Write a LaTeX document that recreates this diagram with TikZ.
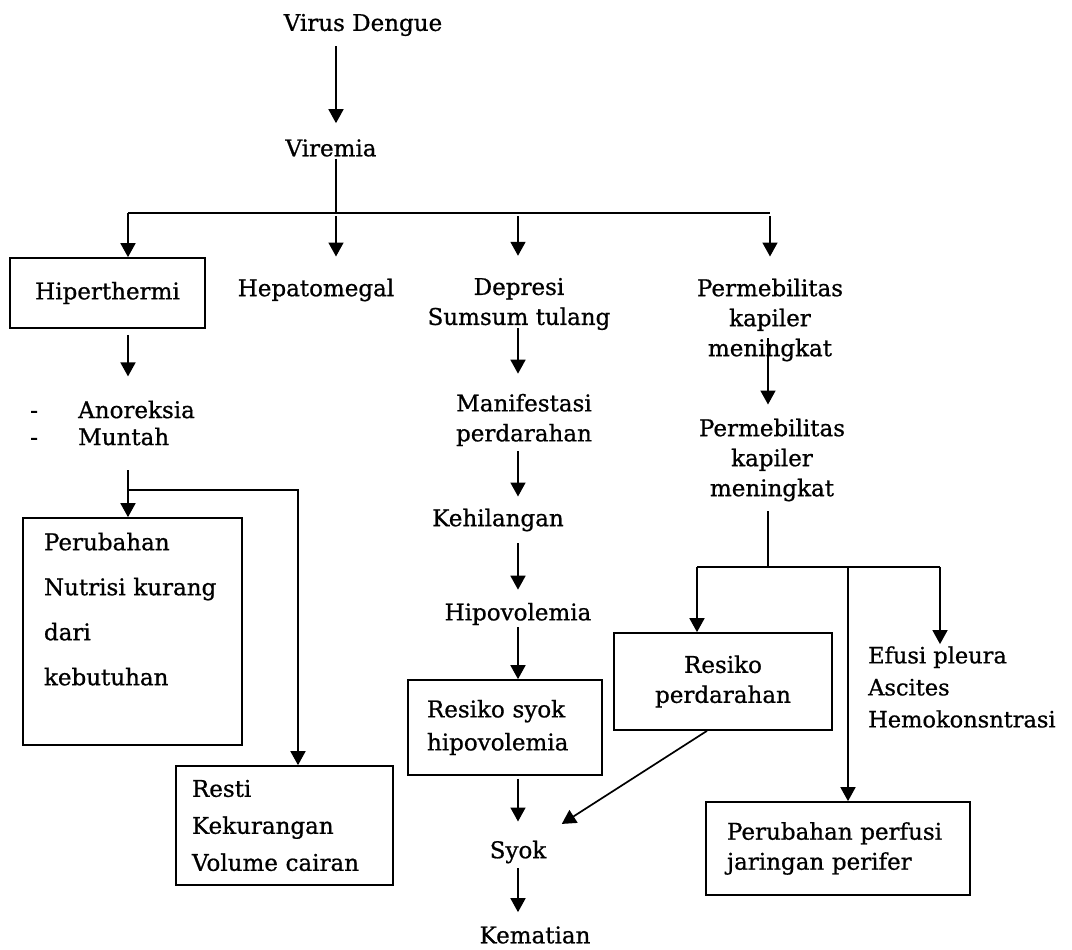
\documentclass[tikz,border=0pt]{standalone}
\usepackage{fontspec}
\setmainfont{DejaVu Serif}[FakeBold=0.8]
\usetikzlibrary{arrows.meta,positioning}
\tikzstyle{line} = [line width=1.7pt]
\tikzstyle{arrow} = [line width=1.7pt,-{Triangle[length=14pt,width=15pt]},shorten <=3pt,shorten >=14pt]
\tikzstyle{barrow} = [line width=1.7pt,-{Triangle[length=14pt,width=15pt]}]

\begin{document}
\begin{tikzpicture}[x=1pt,y=-1pt,every node/.style={font=\fontsize{23}{30}\selectfont,align=center,inner sep=2pt},
    box/.style={draw,line width=1.7pt}]
    \useasboundingbox (0,0) rectangle (1072,950);
    % create the nodes
    \node (virus) at (363,25) {Virus Dengue};
    \node (viremia) at (331,148) {Viremia};
    \node (hiper) [box, minimum width=195pt, minimum height=70pt] at (107.5,293) {Hiperthermi};
    \node (hepa) at (316,290) {Hepatomegal};
    \node (depresi) at (519,304) {Depresi\\Sumsum tulang};
    \node (perm1) at (770,320) {Permebilitas\\kapiler\\meningkat};
    \node (anor) [anchor=west, align=left, font=\fontsize{23}{27}\selectfont] at (28,423) {\makebox[48pt][l]{-}Anoreksia\\\makebox[48pt][l]{-}Muntah};
    \node (nutri) [box, align=left, text width=177pt, inner xsep=21pt, minimum height=227pt, font=\fontsize{23}{45}\selectfont] at (132.5,631.5) {Perubahan\\Nutrisi kurang\\dari\\kebutuhan\\\mbox{}};
    \node (resti) [box, align=left, text width=185pt, inner xsep=16pt, minimum height=119pt, font=\fontsize{23}{37}\selectfont] at (284.5,825.5) {Resti\\Kekurangan\\Volume cairan};
    \node (manif) at (524,420) {Manifestasi\\perdarahan};
    \node (kehil) at (498,520) {Kehilangan};
    \node (hipovol) at (518,614) {Hipovolemia};
    \node (rsyok) [box, align=left, text width=156pt, inner xsep=19pt, minimum height=95pt, font=\fontsize{23}{33}\selectfont] at (505,727.5) {Resiko syok\\hipovolemia};
    \node (syok) at (518,852) {Syok};
    \node (kematian) at (535,935) {Kematian};
    \node (perm2) at (772,460) {Permebilitas\\kapiler\\meningkat};
    \node (resperd) [box, minimum width=218pt, minimum height=97pt] at (723,681.5) {Resiko\\perdarahan};
    \node (efusi) [anchor=west, align=left, font=\fontsize{22.5}{32}\selectfont] at (866,687) {Efusi pleura\\Ascites\\Hemokonsntrasi};
    \node (perfusi) [box, align=left, text width=222pt, inner xsep=21pt, minimum height=93pt] at (838,848.5) {Perubahan perfusi\\jaringan perifer};
    % junction points
    \coordinate (b1) at (128,213);
    \coordinate (b2) at (336,213);
    \coordinate (b3) at (518,213);
    \coordinate (b4) at (770,213);
    \coordinate (a1) at (128,470);
    \coordinate (a2) at (128,490);
    \coordinate (a3) at (298,490);
    \coordinate (c1) at (768,567);
    \coordinate (c2) at (697,567);
    \coordinate (c3) at (848,567);
    \coordinate (c4) at (940,567);
    % connect the nodes
    \draw[arrow, shorten <=8pt] (virus.south -| b2) -- (viremia.north -| b2);
    \draw[line] (viremia.south -| b2) -- (b2);
    \draw[line] (b1) -- (b4);
    \draw[barrow] (b1) -- (b1 |- hiper.north);
    \draw[arrow, shorten >=20pt] (b2) -- (b2 |- hepa.north);
    \draw[arrow, shorten >=20pt] (b3) -- (b3 |- depresi.north);
    \draw[arrow, shorten >=20pt] (b4) -- (b4 |- perm1.north);
    \draw[arrow, shorten <=6pt, shorten >=22pt] (b1 |- hiper.south) -- (b1 |- anor.north);
    \draw[barrow] (a1) -- (a1 |- nutri.north);
    \draw[barrow] (a2) -- (a3) -- (a3 |- resti.north);
    \draw[arrow, shorten <=-4pt, shorten >=18pt] (b3 |- depresi.south) -- (b3 |- manif.north);
    \draw[arrow, shorten >=10pt] (b3 |- manif.south) -- (b3 |- kehil.north);
    \draw[arrow, shorten <=10pt, shorten >=11pt] (b3 |- kehil.south) -- (b3 |- hipovol.north);
    \draw[barrow] (b3 |- hipovol.south) -- (b3 |- rsyok.north);
    \draw[arrow, shorten >=17pt] (b3 |- rsyok.south) -- (b3 |- syok.north);
    \draw[arrow, shorten >=12pt] (b3 |- syok.south) -- (b3 |- kematian.north);
    \draw[arrow, shorten <=-25pt, shorten >=12pt] (c1 |- perm1.south) -- (c1 |- perm2.north);
    \draw[line, shorten <=8pt] (c1 |- perm2.south) -- (c1);
    \draw[line] (c2) -- (c4);
    \draw[barrow] (c2) -- (c2 |- resperd.north);
    \draw[barrow] (c3) -- (c3 |- perfusi.north);
    \draw[barrow] (c4) -- (c4 |- efusi.north);
    \draw[arrow, shorten <=0pt, shorten >=52pt] ([xshift=-16pt]resperd.south) -- (syok.center);
\end{tikzpicture}
\end{document}
